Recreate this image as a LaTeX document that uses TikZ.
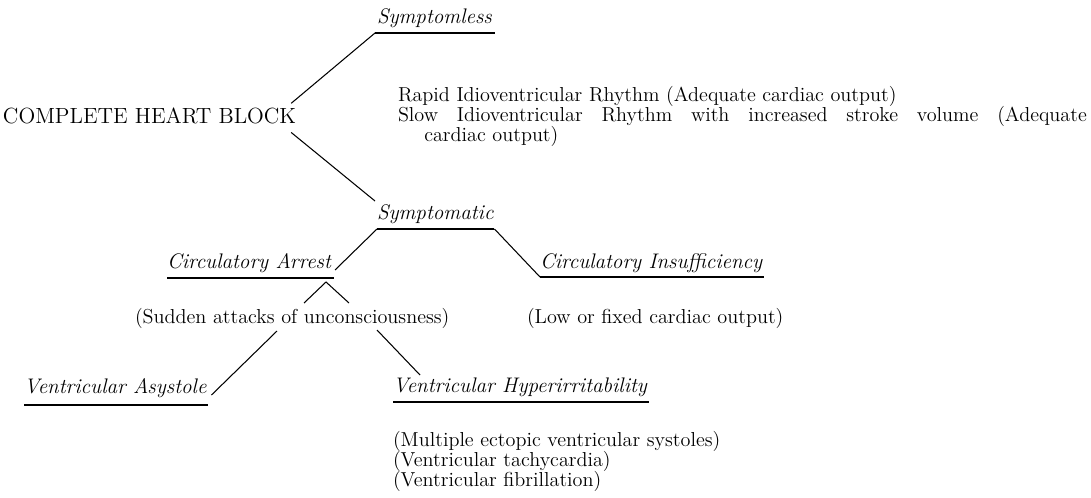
\documentclass[tikz,border=0pt]{standalone}
\usepackage{tikz}
\lineskiplimit=-100pt

\begin{document}
\begin{tikzpicture}[x=0.02cm, y=-0.02cm,
        body/.style={font=\fontsize{11.5}{11.4}\selectfont, inner sep=0pt, outer sep=0pt},
        branch/.style={body, font=\fontsize{12}{12}\selectfont\itshape},
        link/.style={line width=0.6pt}]
        \useasboundingbox (0,0) rectangle (1091,497);

        % Draw the root
        \node[body, font=\fontsize{12.5}{13}\selectfont, anchor=base west] (chb) at (3,123) {COMPLETE HEART BLOCK};

        % Draw the symptomless branch
        \node[branch, anchor=base west] (sless) at (377,23) {Symptomless};
        \coordinate (sless-l) at ([shift={(-2,10)}]sless.base west);
        \coordinate (sless-r) at ([shift={(3,10)}]sless.base east);
        \draw[link] (sless-l) -- (sless-r);
        \draw[link] ([shift={(-5,-4)}]chb.north east) -- (sless-l);
        \node[body, anchor=north west, align=left] (rapid) at (398,86) {Rapid Idioventricular Rhythm (Adequate cardiac output)\\
            \makebox[13.78cm][s]{Slow Idioventricular Rhythm with increased stroke volume (Adequate}\\
            \hspace*{1.3em}cardiac output)};

        % Draw the symptomatic branch
        \node[branch, anchor=base west] (sympt) at (377,219) {Symptomatic};
        \coordinate (sympt-l) at ([shift={(0,10)}]sympt.base west);
        \coordinate (sympt-r) at ([shift={(1,10)}]sympt.base east);
        \draw[link] (sympt-l) -- (sympt-r);
        \draw[link] ([shift={(-5,9)}]chb.south east) -- ([shift={(-2,-18)}]sympt.base west);

        % Draw the arrest and the insufficiency
        \node[branch, anchor=base west] (carrest) at (167,268) {Circulatory Arrest};
        \coordinate (carrest-l) at ([shift={(0,10)}]carrest.base west);
        \coordinate (carrest-r) at ([shift={(3,10)}]carrest.base east);
        \draw[link] (carrest-l) -- (carrest-r);
        \draw[link] (sympt-l) -- ([shift={(1,-8)}]carrest-r);
        \node[branch, anchor=base west] (cinsuff) at (540,268) {Circulatory Insufficiency};
        \coordinate (cinsuff-l) at ([shift={(0,9)}]cinsuff.base west);
        \coordinate (cinsuff-r) at ([shift={(2,9)}]cinsuff.base east);
        \draw[link] (cinsuff-l) -- (cinsuff-r);
        \draw[link] (sympt-r) -- (cinsuff-l);

        % Draw the caret under the arrest
        \coordinate (apex) at ([shift={(-8,4)}]carrest-r);
        \draw[link] ([shift={(-22,21)}]apex) -- (apex) -- ([shift={(23,21)}]apex);
        \node[body, anchor=base west] (sudden) at (135,323) {(Sudden attacks of unconsciousness)};
        \node[body, anchor=base west] (lowout) at (527,323) {(Low or fixed cardiac output)};

        % Draw the ventricular branches
        \node[branch, anchor=base west] (vasys) at (24,393) {Ventricular Asystole};
        \coordinate (vasys-l) at ([shift={(0,12)}]vasys.base west);
        \coordinate (vasys-r) at ([shift={(2,12)}]vasys.base east);
        \draw[link] (vasys-l) -- (vasys-r);
        \node[branch, anchor=base west] (vhyper) at (393,392) {Ventricular Hyperirritability};
        \coordinate (vhyper-l) at ([shift={(0,10)}]vhyper.base west);
        \coordinate (vhyper-r) at ([shift={(2,10)}]vhyper.base east);
        \draw[link] (vhyper-l) -- (vhyper-r);
        \draw[link] ([shift={(142,8)}]sudden.base west) -- ([shift={(3,-10)}]vasys-r);
        \draw[link] ([shift={(242,7)}]sudden.base west) -- ([shift={(27,-17)}]vhyper.base west);
        \node[body, anchor=north west, align=left] (vlist) at (393,431) {(Multiple ectopic ventricular systoles)\\
            (Ventricular tachycardia)\\
            (Ventricular fibrillation)};
\end{tikzpicture}
\end{document}
